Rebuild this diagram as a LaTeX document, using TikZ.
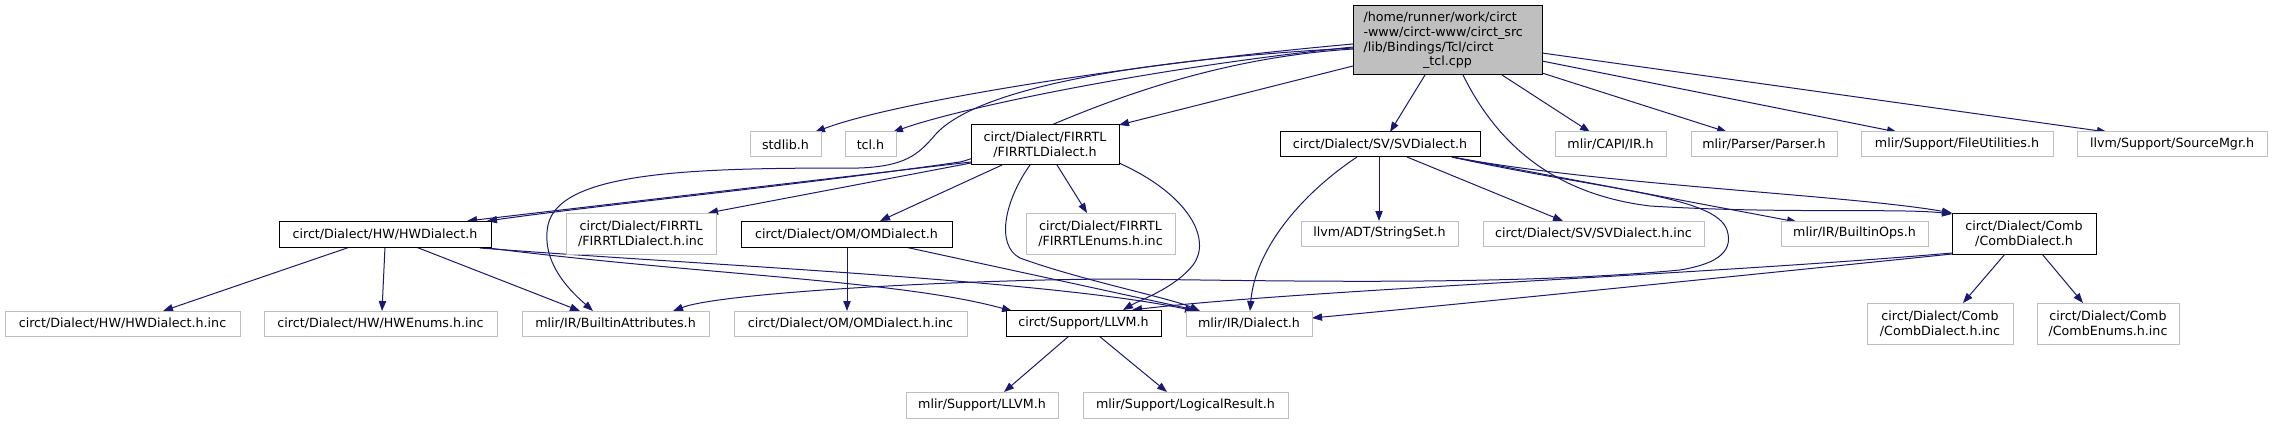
\documentclass[tikz,border=0pt]{standalone}
\usepackage{fontspec}
\setmainfont{DejaVu Sans}
\usetikzlibrary{arrows.meta}
\definecolor{edgeblue}{HTML}{191970}
\definecolor{grey75}{HTML}{BFBFBF}
\pgfdeclarelayer{bglayer}
\pgfdeclarelayer{edgelayer}
\pgfsetlayers{bglayer,edgelayer,main}
\tikzset{
  sz/.style 2 args={minimum width=#1*0.75pt, minimum height=#2*0.75pt},
  basebox/.style={rectangle, inner sep=0pt, text=black, fill=white, line width=0.75pt,
    font=\fontsize{9.5}{11.25}\selectfont, align=center},
  gbox/.style={basebox, draw=grey75},
  bbox/.style={basebox, draw=black},
  rootbox/.style={basebox, draw=black, fill=grey75, align=left, text width=126pt},
  edge/.style={draw=edgeblue, line width=0.75pt, -{Triangle[length=7.5pt,width=5.5pt]}},
}
\begin{document}
\begin{tikzpicture}[x=0.75pt,y=-0.75pt]
\begin{pgfonlayer}{bglayer}
\fill[white] (0,0) rectangle (2272,424);
\end{pgfonlayer}
\useasboundingbox (0,0) rectangle (2272,424);

% row 0
\node[rootbox, sz={189}{69}, font=\fontsize{9.5}{11}\selectfont] (root) at (1447.5,40.5)
  {/home/runner/work/circt\\-www/circt-www/circt\_src\\/lib/Bindings/Tcl/circt\\\makebox[\linewidth]{\_tcl.cpp}};
% row 1
\node[gbox, sz={71}{25}] (stdlib) at (785.5,144.5) {stdlib.h};
\node[gbox, sz={51}{25}] (tcl) at (870.5,144.5) {tcl.h};
\node[bbox, sz={148}{40}] (firrtl) at (1045,145) {circt/Dialect/FIRRTL\\/FIRRTLDialect.h};
\node[bbox, sz={200}{25}] (sv) at (1380,144.5) {circt/Dialect/SV/SVDialect.h};
\node[gbox, sz={111}{25}] (capi) at (1610.5,144.5) {mlir/CAPI/IR.h};
\node[gbox, sz={146}{25}] (parser) at (1764,144.5) {mlir/Parser/Parser.h};
\node[gbox, sz={192}{25}] (fileutil) at (1957,144.5) {mlir/Support/FileUtilities.h};
\node[gbox, sz={190}{25}] (srcmgr) at (2172,144.5) {llvm/Support/SourceMgr.h};
% row 2
\node[bbox, sz={212}{26}] (hw) at (385,234) {circt/Dialect/HW/HWDialect.h};
\node[gbox, sz={150}{41}] (firrtlinc) at (641,233.5) {circt/Dialect/FIRRTL\\/FIRRTLDialect.h.inc};
\node[bbox, sz={211}{26}] (om) at (846.5,234) {circt/Dialect/OM/OMDialect.h};
\node[gbox, sz={149}{41}] (firrtlenums) at (1100.5,233.5) {circt/Dialect/FIRRTL\\/FIRRTLEnums.h.inc};
\node[gbox, sz={157}{25}] (stringset) at (1379.5,233.5) {llvm/ADT/StringSet.h};
\node[gbox, sz={221}{25}] (svinc) at (1593.5,233.5) {circt/Dialect/SV/SVDialect.h.inc};
\node[gbox, sz={147}{25}] (builtinops) at (1854.5,233.5) {mlir/IR/BuiltinOps.h};
\node[bbox, sz={144}{41}] (comb) at (2024,233.5) {circt/Dialect/Comb\\/CombDialect.h};
% row 3
\node[gbox, sz={235}{25}] (hwinc) at (122.5,323.5) {circt/Dialect/HW/HWDialect.h.inc};
\node[gbox, sz={233}{25}] (hwenums) at (380.5,323.5) {circt/Dialect/HW/HWEnums.h.inc};
\node[gbox, sz={187}{25}] (battr) at (615.5,323.5) {mlir/IR/BuiltinAttributes.h};
\node[gbox, sz={233}{25}] (ominc) at (850.5,323.5) {circt/Dialect/OM/OMDialect.h.inc};
\node[bbox, sz={155}{26}] (llvm) at (1083.5,323.5) {circt/Support/LLVM.h};
\node[gbox, sz={126}{25}] (dialect) at (1249,323.5) {mlir/IR/Dialect.h};
\node[gbox, sz={146}{41}] (combinc) at (1940,323.5) {circt/Dialect/Comb\\/CombDialect.h.inc};
\node[gbox, sz={142}{41}] (combenums) at (2108,323.5) {circt/Dialect/Comb\\/CombEnums.h.inc};
% row 4
\node[gbox, sz={152}{26}] (mlirllvm) at (982,405) {mlir/Support/LLVM.h};
\node[gbox, sz={205}{26}] (logres) at (1185.5,405) {mlir/Support/LogicalResult.h};

\begin{pgfonlayer}{edgelayer}
% root edges
\draw[edge] ([shift={(-94.5,3.5)}]root.center) .. controls (1150,62) and (900,100) .. ([shift={(29.5,-12.5)}]stdlib.center);
\draw[edge] ([shift={(-94.5,6.5)}]root.center) .. controls (1150,68) and (960,108) .. ([shift={(22.5,-12.5)}]tcl.center);
\draw[edge] ([shift={(-94.5,7.5)}]root.center) .. controls (1100,62) and (970,95) .. (935,135)
  .. controls (918,155) and (905,166) .. (860,168)
  .. controls (700,168) and (560,170) .. (548,225)
  .. controls (540,265) and (575,295) .. ([shift={(-22.5,-12.5)}]battr.center);
\draw[edge] ([shift={(-94.5,8.5)}]root.center) .. controls (1150,62) and (1010,150) .. (960,162)
  .. controls (800,185) and (600,205) .. ([shift={(102,-13)}]hw.center);
\draw[edge] ([shift={(-94.5,25.5)}]root.center) -- ([shift={(74,-20)}]firrtl.center);
\draw[edge] ([shift={(-22.5,34.5)}]root.center) -- ([shift={(10,-12.5)}]sv.center);
\draw[edge] ([shift={(15.5,34.5)}]root.center) .. controls (1500,150) and (1560,195) .. (1650,206)
  .. controls (1780,214) and (1900,208) .. ([shift={(-72,-19.5)}]comb.center);
\draw[edge] ([shift={(54.5,34.5)}]root.center) -- ([shift={(-20.5,-12.5)}]capi.center);
\draw[edge] ([shift={(94.5,32.5)}]root.center) -- ([shift={(-37,-12.5)}]parser.center);
\draw[edge] ([shift={(94.5,20.5)}]root.center) -- ([shift={(-60,-12.5)}]fileutil.center);
\draw[edge] ([shift={(94.5,12.5)}]root.center) -- ([shift={(-65,-12.5)}]srcmgr.center);
% FIRRTL edges
\draw[edge] ([shift={(-74,17)}]firrtl.center) -- ([shift={(82,-13)}]hw.center);
\draw[edge] ([shift={(-74,18)}]firrtl.center) -- ([shift={(67,-20.5)}]firrtlinc.center);
\draw[edge] ([shift={(-43,20)}]firrtl.center) -- ([shift={(33.5,-13)}]om.center);
\draw[edge] ([shift={(12,20)}]firrtl.center) -- ([shift={(-13.5,-20.5)}]firrtlenums.center);
\draw[edge] ([shift={(-15,20)}]firrtl.center) .. controls (1005,200) and (995,245) .. (1020,258)
  .. controls (1080,280) and (1170,298) .. ([shift={(-49,-12.5)}]dialect.center);
\draw[edge] ([shift={(74,18)}]firrtl.center) .. controls (1190,195) and (1212,240) .. (1193,265)
  .. controls (1175,288) and (1140,300) .. ([shift={(39.5,-13.5)}]llvm.center);
% HW edges
\draw[edge] ([shift={(-35,13)}]hw.center) -- ([shift={(40.5,-12.5)}]hwinc.center);
\draw[edge] ([shift={(0,13)}]hw.center) -- ([shift={(1.5,-12.5)}]hwenums.center);
\draw[edge] ([shift={(31,13)}]hw.center) -- ([shift={(-35.5,-12.5)}]battr.center);
\draw[edge] ([shift={(95,13)}]hw.center) .. controls (700,275) and (900,280) .. ([shift={(-71.5,-12.5)}]llvm.center);
\draw[edge] ([shift={(95,14)}]hw.center) .. controls (700,265) and (1050,280) .. ([shift={(-54,-12.5)}]dialect.center);
% OM edges
\draw[edge] ([shift={(0.5,13)}]om.center) -- ([shift={(-3.5,-12.5)}]ominc.center);
\draw[edge] ([shift={(58.5,13)}]om.center) -- ([shift={(-49,-12.5)}]dialect.center);
% SV edges
\draw[edge] ([shift={(-23,12.5)}]sv.center) .. controls (1300,195) and (1255,250) .. ([shift={(1,-12.5)}]dialect.center);
\draw[edge] ([shift={(-1,12.5)}]sv.center) -- ([shift={(-0.5,-12.5)}]stringset.center);
\draw[edge] ([shift={(27,12.5)}]sv.center) -- ([shift={(-30.5,-12.5)}]svinc.center);
\draw[edge] ([shift={(72,12.5)}]sv.center) -- ([shift={(-57.5,-11.5)}]builtinops.center);
\draw[edge] ([shift={(72,12.5)}]sv.center) .. controls (1600,185) and (1850,195) .. ([shift={(-72,-20.5)}]comb.center);
\draw[edge] ([shift={(72,12.5)}]sv.center) .. controls (1600,190) and (1715,195) .. (1727,230)
  .. controls (1735,255) and (1710,265) .. (1680,270)
  .. controls (1500,287) and (1250,280) .. (1112,279)
  .. controls (950,280) and (720,293) .. ([shift={(57.5,-12.5)}]battr.center);
% Comb edges
\draw[edge] ([shift={(-19,20.5)}]comb.center) -- ([shift={(23,-20.5)}]combinc.center);
\draw[edge] ([shift={(18,20.5)}]comb.center) -- ([shift={(-25,-20.5)}]combenums.center);
\draw[edge] ([shift={(-72,19.5)}]comb.center) .. controls (1700,275) and (1300,290) .. ([shift={(48.5,-13.5)}]llvm.center);
\draw[edge] ([shift={(-72,20.5)}]comb.center) .. controls (1700,280) and (1450,305) .. ([shift={(63,-5.5)}]dialect.center);
% LLVM edges
\draw[edge] ([shift={(-14.5,12.5)}]llvm.center) -- ([shift={(22,-13)}]mlirllvm.center);
\draw[edge] ([shift={(15.5,12.5)}]llvm.center) -- ([shift={(-18.5,-13)}]logres.center);
\end{pgfonlayer}
\end{tikzpicture}
\end{document}
